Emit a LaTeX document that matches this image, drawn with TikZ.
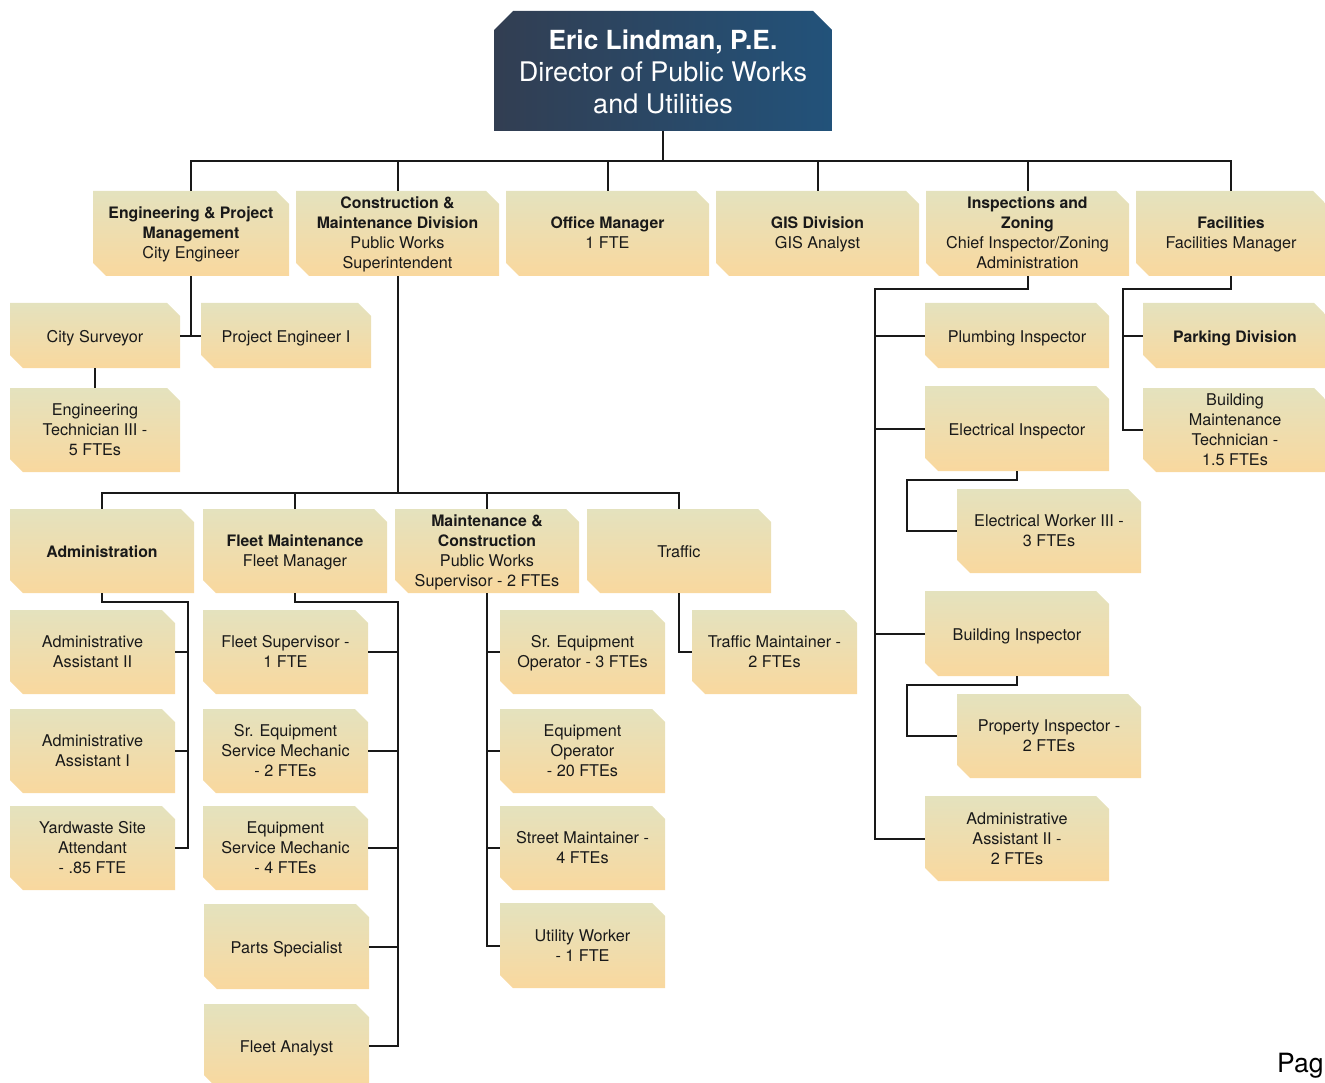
\documentclass[tikz,border=0pt]{standalone}
\usepackage{fontspec}
\setmainfont{TeX Gyre Heros}[BoldFeatures={Scale=0.975}]
\definecolor{boxtop}{RGB}{228,226,190}
\definecolor{boxbot}{RGB}{249,216,158}
\definecolor{dirl}{RGB}{50,62,82}
\definecolor{dirr}{RGB}{34,82,122}
\definecolor{ink}{RGB}{25,25,25}
\tikzset{
  conn/.style={line width=2pt, draw=ink, line join=miter},
  boxframe/.style={inner sep=0pt, draw=none},
  boxtext/.style={align=center, inner sep=0pt, font=\fontsize{16.2}{20}\selectfont, text=ink,
    execute at begin node=\strut, execute at end node=\strut},
  dirtext/.style={align=center, inner sep=0pt, font=\fontsize{27}{32}\selectfont, text=white},
}
\newcommand\obox[6]{%
  \shade[top color=boxtop, bottom color=boxbot] ({#2},{#3}) -- ({#4-13},{#3}) -- ({#4},{#3+13}) -- ({#4},{#5}) -- ({#2+13},{#5}) -- ({#2},{#5-13}) -- cycle;
  \node[boxframe, minimum width={(#4-#2)*1pt}, minimum height={(#5-#3)*1pt}] (#1) at ({(#2+#4)/2},{(#3+#5)/2}) {};
  \node[boxtext] (#1t) at ([yshift=-2.6pt]#1.center) {#6};
}
\begin{document}
\begin{tikzpicture}[x=1pt,y=-1pt]
\useasboundingbox (0,0) rectangle (1325,1083);
\begin{scope}
\clip (0,0) rectangle (1325,1083);
% Director
\shade[left color=dirl, right color=dirr] (494,131) -- (494,30) -- (513,11) -- (813,11) -- (832,30) -- (832,131) -- cycle;
\node[boxframe, minimum width=338pt, minimum height=120pt] (dir) at (663,71) {};
\node[dirtext] (dirt) at ([yshift=-1pt]dir.center) {\textbf{Eric Lindman, P.E.}\\Director of Public Works\\and Utilities};
% Row 1
\obox{eng}{93}{191}{289}{276}{\textbf{Engineering \& Project}\\\textbf{Management}\\City Engineer}
\obox{con}{296}{191}{499}{276}{\textbf{Construction \&}\\\textbf{Maintenance Division}\\Public Works\\Superintendent}
\obox{off}{506}{191}{709}{276}{\textbf{Office Manager}\\1 FTE}
\obox{gis}{716}{191}{919}{276}{\textbf{GIS Division}\\GIS Analyst}
\obox{ins}{926}{191}{1129}{276}{\textbf{Inspections and}\\\textbf{Zoning}\\Chief Inspector/Zoning\\Administration}
\obox{fac}{1136}{191}{1326}{276}{\textbf{Facilities}\\Facilities Manager}
% Engineering
\obox{cs}{10}{303}{180}{368}{City Surveyor}
\obox{pe}{201}{303}{371}{368}{Project Engineer I}
\obox{et}{10}{388}{180}{472}{Engineering\\Technician III -\\5 FTEs}
% Construction row
\obox{adm}{10}{509}{194}{593}{\textbf{Administration}}
\obox{flt}{203}{509}{387}{593}{\textbf{Fleet Maintenance}\\Fleet Manager}
\obox{mc}{395}{509}{579}{593}{\textbf{Maintenance \&}\\\textbf{Construction}\\Public Works\\Supervisor - 2 FTEs}
\obox{trf}{587}{509}{771}{593}{Traffic}
% Administration
\obox{aa2}{10}{610}{175}{694}{Administrative\\Assistant II}
\obox{aa1}{10}{709}{175}{793}{Administrative\\Assistant I}
\obox{ya}{10}{806}{175}{890}{Yardwaste Site\\Attendant\\- .85 FTE}
% Fleet
\obox{fs}{203}{610}{368}{694}{Fleet Supervisor -\\1 FTE}
\obox{sesm}{203}{709}{368}{793}{Sr. Equipment\\Service Mechanic\\- 2 FTEs}
\obox{esm}{203}{806}{368}{890}{Equipment\\Service Mechanic\\- 4 FTEs}
\obox{ps}{204}{904}{369}{989}{Parts Specialist}
\obox{fa}{204}{1004}{369}{1088}{Fleet Analyst}
% Maintenance & Construction
\obox{seo}{500}{610}{665}{694}{Sr. Equipment\\Operator - 3 FTEs}
\obox{eo}{500}{709}{665}{793}{Equipment\\Operator\\- 20 FTEs}
\obox{sm}{500}{806}{665}{890}{Street Maintainer -\\4 FTEs}
\obox{uw}{500}{903}{665}{988}{Utility Worker\\- 1 FTE}
% Traffic
\obox{tm}{692}{610}{857}{694}{Traffic Maintainer -\\2 FTEs}
% Inspections
\obox{pl}{925}{303}{1109}{368}{Plumbing Inspector}
\obox{el}{925}{386}{1109}{471}{Electrical Inspector}
\obox{ew}{957}{489}{1141}{573}{Electrical Worker III -\\3 FTEs}
\obox{bi}{925}{591}{1109}{676}{Building Inspector}
\obox{pi}{957}{694}{1141}{778}{Property Inspector -\\2 FTEs}
\obox{aai}{925}{796}{1109}{881}{Administrative\\Assistant II -\\2 FTEs}
% Facilities
\obox{pk}{1143}{303}{1327}{368}{\textbf{Parking Division}}
\obox{bmt}{1143}{388}{1327}{472}{Building\\Maintenance\\Technician -\\1.5 FTEs}
% ---------- connectors ----------
\coordinate (bar1) at (663,161);
\draw[conn] (dir.south) -- (bar1);
\draw[conn] (eng.north) -- (eng.north |- bar1) -- (fac.north |- bar1) -- (fac.north);
\foreach \n in {con,off,gis,ins} \draw[conn] (\n.north) -- (\n.north |- bar1);
% engineering
\draw[conn] (eng.south) -- (eng.south |- pe.west);
\draw[conn] (cs.east) -- (pe.west);
\draw[conn] (cs.south) -- (et.north);
% construction
\coordinate (bar2) at (397,493);
\draw[conn] (con.south) -- (con.south |- bar2);
\draw[conn] (adm.north) -- (adm.north |- bar2) -- (trf.north |- bar2) -- (trf.north);
\foreach \n in {flt,mc} \draw[conn] (\n.north) -- (\n.north |- bar2);
% administration
\coordinate (admbus) at (188,602);
\draw[conn] (adm.south) |- (admbus) -- (admbus |- ya.east) -- (ya.east);
\foreach \n in {aa2,aa1} \draw[conn] (\n.east) -- (admbus |- \n.east);
% fleet
\coordinate (fbus) at (398,602);
\draw[conn] (flt.south) |- (fbus) -- (fbus |- fa.east) -- (fa.east);
\foreach \n in {fs,sesm,esm,ps} \draw[conn] (\n.east) -- (fbus |- \n.east);
% m&c
\draw[conn] (mc.south) |- (uw.west);
\foreach \n in {seo,eo,sm} \draw[conn] (\n.west) -- (mc.south |- \n.west);
% traffic
\draw[conn] (trf.south) |- (tm.west);
% inspections
\coordinate (insbus) at (875,289);
\draw[conn] (ins.south) |- (insbus) -- (insbus |- aai.west) -- (aai.west);
\foreach \n in {pl,el,bi} \draw[conn] (\n.west) -- (insbus |- \n.west);
\coordinate (elbus) at (907,480);
\draw[conn] (el.south) |- (elbus) -- (elbus |- ew.west) -- (ew.west);
\coordinate (bibus) at (907,685);
\draw[conn] (bi.south) |- (bibus) -- (bibus |- pi.west) -- (pi.west);
% facilities
\coordinate (facbus) at (1123,289);
\draw[conn] (fac.south) |- (facbus) -- (facbus |- bmt.west) -- (bmt.west);
\draw[conn] (pk.west) -- (facbus |- pk.west);
% page label
\node[anchor=base west, inner sep=0pt, font=\fontsize{26.5}{32}\selectfont, text=black] (pg) at (1277,1072) {Pag};
\end{scope}
\end{tikzpicture}
\end{document}
